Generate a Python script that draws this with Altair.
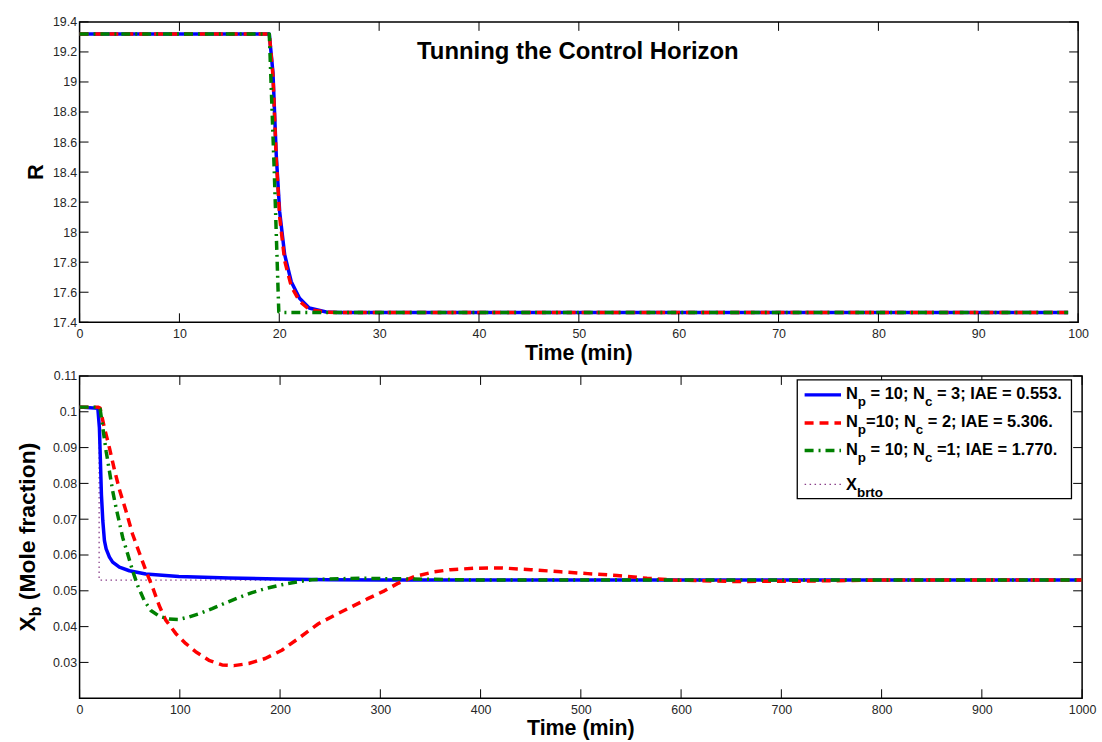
import altair as alt
import pandas as pd

# ---------------- data ----------------
# Upper panel: reflux ratio R vs time (min)
R_T_NC3 = [0, 19.0, 19.37, 19.7, 20.04, 20.54, 21.2, 22.03, 23.0, 24.7, 26.0, 99]
R_V_NC3 = [19.32, 19.32, 19.06, 18.51, 18.135, 17.85, 17.67, 17.56, 17.495, 17.468, 17.465, 17.465]
R_T_NC2 = [0, 19.0, 19.37, 19.7, 20.04, 20.54, 21.2, 22.03, 23.0, 24.7, 26.0, 99]
R_V_NC2 = [19.32, 19.32, 19.04, 18.48, 18.10, 17.81, 17.64, 17.54, 17.485, 17.467, 17.465, 17.465]
R_T_NC1 = [0, 19.0, 19.5, 19.95, 20.5, 99]
R_V_NC1 = [19.32, 19.32, 18.40, 17.47, 17.465, 17.465]

# Lower panel: bottoms composition Xb vs time (min)
XB_T_NC3 = [0, 18.2, 19.8, 20.8, 21.8, 23.2, 24.8, 26.5, 29.8, 33, 39.7, 49.6, 66, 99, 149,
            198, 248, 300, 1000]
XB_V_NC3 = [0.1013, 0.1010, 0.0955, 0.0862, 0.0769, 0.0695, 0.0640, 0.0617, 0.0594, 0.0580,
            0.0566, 0.0556, 0.0547, 0.0540, 0.0536, 0.0533, 0.0531, 0.0530, 0.0530]
XB_T_NC2 = [0, 18.2, 20.5, 24.8, 29.8, 34.7, 39.7, 46.3, 52.9, 59.5,
            66.2, 72.8, 79.4, 86, 95.9, 105.8, 115.8, 129, 142.2, 153.8,
            168.7, 185.2, 201.8, 218.3, 238.2, 254, 271, 287.5, 304, 317,
            334, 354, 370, 394, 420, 450, 480, 507, 536, 566,
            593, 653, 720, 800, 1000]
XB_V_NC2 = [0.1013, 0.1013, 0.1010, 0.0955, 0.0899, 0.0839, 0.0783, 0.0723, 0.0658, 0.0607,
            0.0556, 0.0510, 0.0459, 0.0418, 0.0381, 0.0353, 0.0330, 0.0306, 0.0293, 0.0291,
            0.0297, 0.0311, 0.0334, 0.0367, 0.0408, 0.0431, 0.0455, 0.0478, 0.0500, 0.0520,
            0.0540, 0.0553, 0.0559, 0.0563, 0.0564, 0.0559, 0.0553, 0.0548, 0.0543, 0.0535,
            0.0530, 0.0526, 0.0527, 0.0530, 0.0530]
XB_T_NC1 = [0, 18.2, 20.5, 23.2, 26.5, 29.8, 33, 36.4, 39.7, 43,
            48, 52.9, 57.9, 64.5, 71.1, 79.4, 89.3, 99.2, 109.2, 119.1,
            132.3, 145.5, 158.8, 172, 185.2, 198.5, 215, 231.6, 248, 280,
            330, 400, 1000]
XB_V_NC1 = [0.1013, 0.1013, 0.1008, 0.0955, 0.0890, 0.0834, 0.0779, 0.0732, 0.0691, 0.0649,
            0.0603, 0.0556, 0.0515, 0.0473, 0.0445, 0.0429, 0.0421, 0.0420, 0.0427, 0.0436,
            0.0450, 0.0466, 0.0481, 0.0495, 0.0506, 0.0515, 0.0524, 0.0531, 0.0533, 0.0535,
            0.0533, 0.0530, 0.0530]
XB_T_SP = [0, 19.5, 19.5, 1000]
XB_V_SP = [0.1013, 0.1013, 0.0530, 0.0530]

TOP_X_TICKS = list(range(0, 101, 10))
TOP_Y_TICKS = [17.4, 17.6, 17.8, 18.0, 18.2, 18.4, 18.6, 18.8, 19.0, 19.2, 19.4]
BOT_X_TICKS = list(range(0, 1001, 100))
BOT_Y_TICKS = [0.03, 0.04, 0.05, 0.06, 0.07, 0.08, 0.09, 0.10, 0.11]

LEGEND_ROWS = [
    [("N", "main"), ("p", "sub"), (" = 10; N", "main"), ("c", "sub"), (" = 3; IAE = 0.553.", "main")],
    [("N", "main"), ("p", "sub"), ("=10; N", "main"), ("c", "sub"), (" = 2; IAE = 5.306.", "main")],
    [("N", "main"), ("p", "sub"), (" = 10; N", "main"), ("c", "sub"), (" =1; IAE = 1.770.", "main")],
    [("X", "main"), ("brto", "sub")],
]
TITLE = "Tunning the Control Horizon"

# ---------------- styles ----------------
BLUE, RED, GREEN, PURPLE = "#0000ff", "#ff0000", "#008000", "#8a3f8a"
FONT = "Liberation Sans"
W1, H1 = 1004, 302
W2, H2 = 1008, 324
TICK = 9

# Arial/Liberation Sans Bold advance widths (per 1000 em)
AB = {' ': 278, '=': 584, ';': 333, '.': 278, '(': 333, ')': 333, 'N': 722, 'I': 278, 'A': 722,
      'E': 667, 'X': 667, 'M': 833, 'T': 611, 'p': 611, 'c': 556, 'b': 611, 'r': 389, 't': 333,
      'o': 611, 'l': 278, 'e': 556, 'f': 333, 'a': 556, 'i': 278, 'n': 611, 'm': 889}


def tw(s, fs):
    return sum(AB.get(ch, 556) for ch in s) * fs / 1000.0


def one():
    return pd.DataFrame({"a": [0]})


def line(ts, vs, color, width, dash, xs, ys, xax, yax):
    df = pd.DataFrame({"t": ts, "v": vs, "i": list(range(len(ts)))})
    kw = dict(color=color, strokeWidth=width, strokeCap="butt", strokeJoin="round")
    if dash:
        kw["strokeDash"] = dash
    return alt.Chart(df).mark_line(**kw).encode(
        x=alt.X("t:Q", scale=xs, axis=xax),
        y=alt.Y("v:Q", scale=ys, axis=yax),
        order="i:Q",
    )


def tick_layers(xvals, yvals, xs, ys, xax, yax, W, H):
    dx = pd.DataFrame({"tv": xvals})
    dy = pd.DataFrame({"tv": yvals})
    base = dict(color="black", strokeWidth=1)
    out = []
    for y0, y1 in [(H, H - TICK), (0, TICK)]:
        out.append(alt.Chart(dx).mark_rule(**base).encode(
            x=alt.X("tv:Q", scale=xs, axis=xax), y=alt.value(y0), y2=alt.value(y1)))
    for x0, x1 in [(0, TICK), (W - TICK, W)]:
        out.append(alt.Chart(dy).mark_rule(**base).encode(
            y=alt.Y("tv:Q", scale=ys, axis=yax), x=alt.value(x0), x2=alt.value(x1)))
    return out


def text(s, x, y, fs, align="left", angle=0, weight="bold", color="black"):
    kw = dict(text=s, fontSize=fs, font=FONT, fontWeight=weight, align=align,
              baseline="alphabetic", color=color)
    if angle:
        kw["angle"] = angle
    return alt.Chart(one()).mark_text(**kw).encode(x=alt.value(x), y=alt.value(y))


def axis(vals, pad, fmt):
    return alt.Axis(values=vals, title=None, ticks=False, tickSize=0, domain=False, grid=False,
                    labelPadding=pad, labelFlush=False, labelOverlap=False, format=fmt,
                    labelFont=FONT, labelFontSize=12.5, labelColor="#262626")


# ---------------- top panel ----------------
xs1 = alt.Scale(domain=[0, 100], nice=False, zero=False)
ys1 = alt.Scale(domain=[17.4, 19.4], nice=False, zero=False)
xa1 = axis(TOP_X_TICKS, 5, "d")
ya1 = axis(TOP_Y_TICKS, 3, "~g")

top_layers = [
    line(R_T_NC3, R_V_NC3, BLUE, 3.5, None, xs1, ys1, xa1, ya1),
    line(R_T_NC2, R_V_NC2, RED, 3.5, [9, 6], xs1, ys1, xa1, ya1),
    line(R_T_NC1, R_V_NC1, GREEN, 3.5, [9, 5, 2, 5], xs1, ys1, xa1, ya1),
]
top_layers += tick_layers(TOP_X_TICKS, TOP_Y_TICKS, xs1, ys1, xa1, ya1, W1, H1)
top_layers += [
    text(TITLE, 501, 37.5, 24, align="center"),
    text("Time (min)", W1 / 2, 340, 21.5, align="center"),
    text("R", -37, H1 / 2, 22, align="center", angle=270),
]
top = alt.layer(*top_layers).properties(width=W1, height=H1)

# ---------------- bottom panel ----------------
xs2 = alt.Scale(domain=[0, 1000], nice=False, zero=False)
ys2 = alt.Scale(domain=[0.02, 0.11], nice=False, zero=False)
xa2 = axis(BOT_X_TICKS, 5, "d")
ya2 = axis(BOT_Y_TICKS, 3, "~g")

bot_layers = [
    line(XB_T_SP, XB_V_SP, PURPLE, 1.3, [1.5, 3.5], xs2, ys2, xa2, ya2),
    line(XB_T_NC3, XB_V_NC3, BLUE, 3.5, None, xs2, ys2, xa2, ya2),
    line(XB_T_NC2, XB_V_NC2, RED, 3.5, [9, 6], xs2, ys2, xa2, ya2),
    line(XB_T_NC1, XB_V_NC1, GREEN, 3.5, [9, 5, 2, 5], xs2, ys2, xa2, ya2),
]
bot_layers += tick_layers(BOT_X_TICKS, BOT_Y_TICKS, xs2, ys2, xa2, ya2, W2, H2)

# legend
LX0, LX1, LY0, LY1 = 721.6, 997.3, 4, 123.3
bot_layers.append(alt.Chart(one()).mark_rect(fill="white", stroke="black", strokeWidth=1.3).encode(
    x=alt.value(LX0), x2=alt.value(LX1), y=alt.value(LY0), y2=alt.value(LY1)))
sample_styles = [(BLUE, 3.5, None), (RED, 3.5, [9, 6]), (GREEN, 3.5, [9, 5, 2, 5]), (PURPLE, 1.3, [1.5, 3.5])]
line_ys = [19, 47.3, 75, 109]
base_ys = [23.3, 51.3, 79.3, 114.5]
FM, FS, SUBDY = 16.5, 13.5, 7
for (col, wdt, dsh), ly, by, row in zip(sample_styles, line_ys, base_ys, LEGEND_ROWS):
    kw = dict(color=col, strokeWidth=wdt, strokeCap="butt")
    if dsh:
        kw["strokeDash"] = dsh
    bot_layers.append(alt.Chart(one()).mark_rule(**kw).encode(
        x=alt.value(729), x2=alt.value(765.6), y=alt.value(ly)))
    cx = 770.6
    for seg, kind in row:
        fs = FM if kind == "main" else FS
        lead = len(seg) - len(seg.lstrip(" "))
        sx = cx + tw(" " * lead, fs)
        bot_layers.append(text(seg.lstrip(" "), sx, by + (0 if kind == "main" else SUBDY), fs))
        cx += tw(seg, fs)

# axis titles
bot_layers.append(text("Time (min)", W2 / 2, 361, 21.5, align="center"))
YF, YS = 23, 16
parts = [("X", YF, 0), ("b", YS, 6), (" (Mole fraction)", YF, 0)]
total = sum(tw(s, f) for s, f, _ in parts)
cy = H2 / 2 + total / 2
for s, f, d in parts:
    lead = len(s) - len(s.lstrip(" "))
    bot_layers.append(text(s.lstrip(" "), -44.7 + d, cy - tw(" " * lead, f), f, angle=270))
    cy -= tw(s, f)

bottom = alt.layer(*bot_layers).properties(width=W2, height=H2)

chart = alt.vconcat(top, bottom, spacing=3).resolve_scale(
    x="independent", y="independent"
).properties(
    padding={"left": 16, "top": 13, "right": 5, "bottom": 0},
    background="white",
).configure_view(
    stroke="black", strokeWidth=1.5
).configure_axis(
    labelFont=FONT, labelFontSize=12.5, labelColor="#262626"
)

chart.save("out.html", embed_options={"renderer": "svg", "actions": False})
